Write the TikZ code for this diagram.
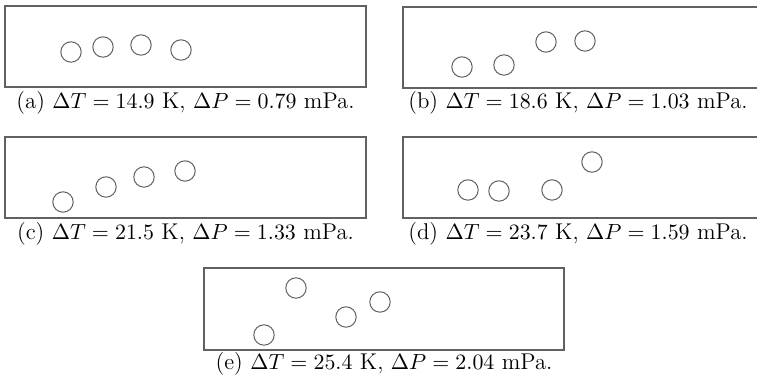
\documentclass[tikz,border=0pt]{standalone}
\begin{document}
\begin{tikzpicture}[x=0.5pt,y=-0.5pt,
  frame/.style={draw=black!62,line width=0.55pt},
  bubble/.style={circle,draw=black!62,line width=0.5pt,minimum size=10.2pt,inner sep=0pt},
  captext/.style={anchor=base,inner sep=0pt,font=\fontsize{11.4}{13}\selectfont}]
\path[use as bounding box,clip] (0,0) rectangle (757,378);
% panel (a)
\draw[frame] (5,6) rectangle (366,87);
\node[bubble] (a1) at (71,52) {};
\node[bubble] (a2) at (103,47) {};
\node[bubble] (a3) at (141,45) {};
\node[bubble] (a4) at (181,50) {};
\node[captext] (capa) at (185.5,109) {(a) $\Delta T = 14.9$ K, $\Delta P = 0.79$ mPa.};
% panel (b)
\draw[frame] (403,7) rectangle (760,88);
\node[bubble] (b1) at (462,67) {};
\node[bubble] (b2) at (504,65) {};
\node[bubble] (b3) at (546,42) {};
\node[bubble] (b4) at (585,41) {};
\node[captext] (capb) at (578,109) {(b) $\Delta T = 18.6$ K, $\Delta P = 1.03$ mPa.};
% panel (c)
\draw[frame] (5,137) rectangle (366,218);
\node[bubble] (c1) at (63,202) {};
\node[bubble] (c2) at (106,187) {};
\node[bubble] (c3) at (144,177) {};
\node[bubble] (c4) at (185,171) {};
\node[captext] (capc) at (185.5,240) {(c) $\Delta T = 21.5$ K, $\Delta P = 1.33$ mPa.};
% panel (d)
\draw[frame] (403,137) rectangle (760,218);
\node[bubble] (d1) at (468,190) {};
\node[bubble] (d2) at (499,191) {};
\node[bubble] (d3) at (552,190) {};
\node[bubble] (d4) at (592,162) {};
\node[captext] (capd) at (578,240) {(d) $\Delta T = 23.7$ K, $\Delta P = 1.59$ mPa.};
% panel (e)
\draw[frame] (204,268) rectangle (564,350);
\node[bubble] (e1) at (296,288) {};
\node[bubble] (e2) at (346,317) {};
\node[bubble] (e3) at (380,302) {};
\node[bubble] (e4) at (264,335) {};
\node[captext] (cape) at (384,370) {(e) $\Delta T = 25.4$ K, $\Delta P = 2.04$ mPa.};
\end{tikzpicture}
\end{document}
